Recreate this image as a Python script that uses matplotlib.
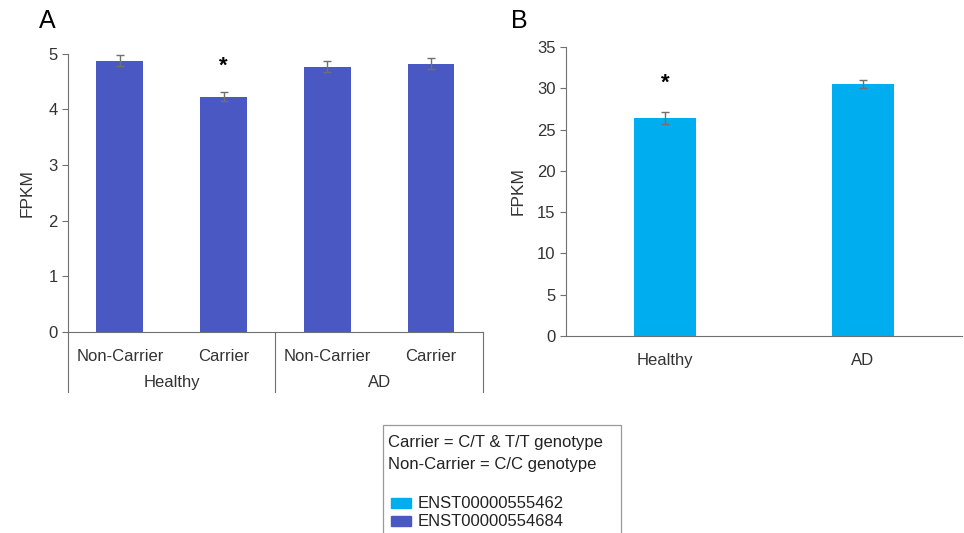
import matplotlib
matplotlib.use('Agg')
import matplotlib.pyplot as plt
from matplotlib.patches import Rectangle

plt.rcParams['font.family'] = ['Liberation Sans', 'DejaVu Sans']

# panel A data
a_genotypes = ['Non-Carrier', 'Carrier', 'Non-Carrier', 'Carrier']
a_groups = ['Healthy', 'AD']
a_values = [4.88, 4.23, 4.77, 4.82]
a_errors = [0.10, 0.08, 0.10, 0.10]
a_star = [False, True, False, False]

# panel B data
b_groups = ['Healthy', 'AD']
b_values = [26.4, 30.5]
b_errors = [0.7, 0.5]
b_star = [True, False]

series_names = ['ENST00000555462', 'ENST00000554684']
col_b = '#00aeef'
col_a = '#4a58c4'
grey = '#707070'
txt = '#333333'
fs = 12

fig = plt.figure(figsize=(9.64, 5.33), dpi=100)

# ---- Panel A
axA = fig.add_axes([0.0705, 0.377, 0.4305, 0.522])
xa = list(range(len(a_values)))
axA.bar(xa, a_values, width=0.45, color=col_a, zorder=2)
axA.errorbar(xa, a_values, yerr=a_errors, fmt='none', ecolor=grey, elinewidth=1, capsize=3, capthick=1, zorder=3)
for i, s in enumerate(a_star):
    if s:
        axA.text(xa[i], a_values[i] + 0.36, '*', ha='center', va='bottom', fontsize=16, fontweight='bold')
axA.set_xlim(-0.5, len(a_values) - 0.5)
axA.set_ylim(0, 5)
axA.set_yticks(range(0, 6))
axA.set_xticks(xa)
axA.set_xticklabels(a_genotypes, fontsize=fs, color=txt)
axA.tick_params(axis='x', length=0, pad=12)
axA.tick_params(axis='y', labelsize=fs, colors=txt, length=4, width=0.8, color=grey)
axA.set_ylabel('FPKM', fontsize=fs + 0.5, color=txt, labelpad=10)
for sp in ['top', 'right']:
    axA.spines[sp].set_visible(False)
axA.spines['left'].set_color(grey)
axA.spines['bottom'].set_color(grey)
# group separators and labels
for k, g in enumerate(a_groups):
    axA.text(2 * k + 0.5, -0.18, g, transform=axA.get_xaxis_transform(), ha='center', va='center',
             fontsize=fs, color=txt)
for xs in [-0.5, 1.5, 3.5]:
    axA.plot([xs, xs], [0, -0.215], transform=axA.get_xaxis_transform(), color=grey, lw=0.8, clip_on=False)
fig.text(39 / 964, 1 - 21 / 533, 'A', fontsize=18, ha='left', va='center')

# ---- Panel B
axB = fig.add_axes([0.587, 0.3696, 0.411, 0.5424])
xb = list(range(len(b_values)))
axB.bar(xb, b_values, width=0.31, color=col_b, zorder=2)
axB.errorbar(xb, b_values, yerr=b_errors, fmt='none', ecolor=grey, elinewidth=1, capsize=3, capthick=1, zorder=3)
for i, s in enumerate(b_star):
    if s:
        axB.text(xb[i], b_values[i] + 2.9, '*', ha='center', va='bottom', fontsize=16, fontweight='bold')
axB.set_xlim(-0.5, len(b_values) - 0.5)
axB.set_ylim(0, 35)
axB.set_yticks(range(0, 36, 5))
axB.set_xticks(xb)
axB.set_xticklabels(b_groups, fontsize=fs, color=txt)
axB.tick_params(axis='x', length=0, pad=12)
axB.tick_params(axis='y', labelsize=fs, colors=txt, length=4, width=0.8, color=grey)
axB.set_ylabel('FPKM', fontsize=fs + 0.5, color=txt, labelpad=8)
for sp in ['top', 'right']:
    axB.spines[sp].set_visible(False)
axB.spines['left'].set_color(grey)
axB.spines['bottom'].set_color(grey)
fig.text(511 / 964, 1 - 21 / 533, 'B', fontsize=18, ha='left', va='center')

# ---- legend box
W, H = 964, 533
fig.patches.append(Rectangle((383 / W, -0.01), (621 - 383) / W, (533 - 425) / H + 0.01,
                             transform=fig.transFigure, fill=False, edgecolor='#999999', lw=0.9))
fig.text(388 / W, 1 - 443 / H, 'Carrier = C/T & T/T genotype', fontsize=fs, va='center', color='#222222')
fig.text(388 / W, 1 - 464 / H, 'Non-Carrier = C/C genotype', fontsize=fs, va='center', color='#222222')
for k, (name, c) in enumerate(zip(series_names, [col_b, col_a])):
    yc = 503 + 18 * k
    fig.patches.append(Rectangle((391 / W, 1 - (yc + 5) / H), 20 / W, 10 / H,
                                 transform=fig.transFigure, color=c))
    fig.text(418 / W, 1 - yc / H, name, fontsize=fs, va='center', color='#222222')

fig.savefig('out.png', dpi=100)
